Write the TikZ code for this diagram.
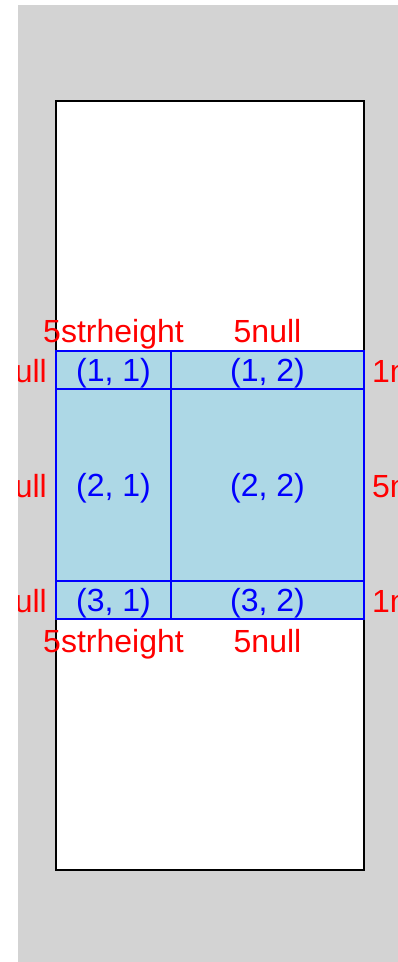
\documentclass[tikz,border=0pt]{standalone}
\usepackage{fontspec}
\setmainfont{Liberation Sans}
\definecolor{bggray}{HTML}{D3D3D3}
\definecolor{cellblue}{HTML}{ADD8E6}
\begin{document}
\begin{tikzpicture}[x=1pt,y=-1pt,
  cell/.style={draw=blue, line width=1.6pt, fill=cellblue, text=blue, inner sep=0pt, text height=26pt, text depth=3pt, font=\fontsize{32}{38}\selectfont},
  lbl/.style={text=red, inner sep=0pt, font=\fontsize{32}{38}\selectfont}]
\useasboundingbox (0,0) rectangle (398,962);
\fill[bggray] (18,5) rectangle (398,962);
\draw[line width=2pt, fill=white] (56,101) rectangle (364,870);
% cells
\node[cell, minimum width=115pt, minimum height=38pt] (c11) at (113.5,370) {(1, 1)};
\node[cell, minimum width=193pt, minimum height=38pt] (c12) at (267.5,370) {(1, 2)};
\node[cell, minimum width=115pt, minimum height=192pt] (c21) at (113.5,485) {(2, 1)};
\node[cell, minimum width=193pt, minimum height=192pt] (c22) at (267.5,485) {(2, 2)};
\node[cell, minimum width=115pt, minimum height=38pt] (c31) at (113.5,600) {(3, 1)};
\node[cell, minimum width=193pt, minimum height=38pt] (c32) at (267.5,600) {(3, 2)};
\begin{scope}
\clip (18,5) rectangle (398,962);
% top / bottom labels
\node[lbl, anchor=base] (t1) at (113.5,342) {5strheight};
\node[lbl, anchor=base] (t2) at (267.5,342) {5null};
\node[lbl, anchor=base] (b1) at (113.5,652) {5strheight};
\node[lbl, anchor=base] (b2) at (267.5,652) {5null};
% left / right labels
\node[lbl, anchor=base east] (l1) at (47,382) {1null};
\node[lbl, anchor=base east] (l2) at (47,497) {5null};
\node[lbl, anchor=base east] (l3) at (47,612) {1null};
\node[lbl, anchor=base west] (r1) at (372,382) {1null};
\node[lbl, anchor=base west] (r2) at (372,497) {5null};
\node[lbl, anchor=base west] (r3) at (372,612) {1null};
\end{scope}
\end{tikzpicture}
\end{document}
